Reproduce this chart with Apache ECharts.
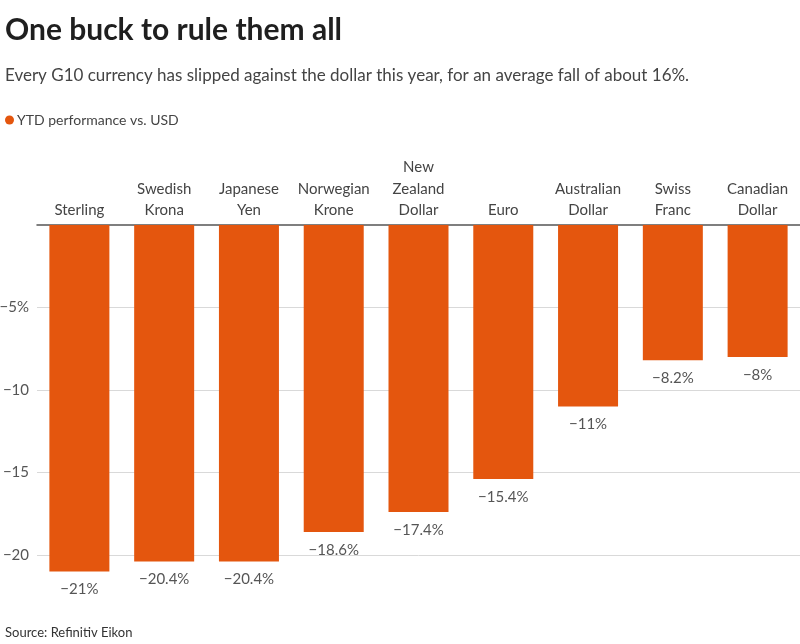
<!DOCTYPE html>
<html><head><meta charset="utf-8">
<script src="https://cdn.jsdelivr.net/npm/echarts@6/dist/echarts.min.js"></script>
<style>html,body{margin:0;padding:0;background:#fff}#c{width:800px;height:644px}</style>
</head><body><div id="c"></div>
<script>
const categories = ['Sterling', 'Swedish\nKrona', 'Japanese\nYen', 'Norwegian\nKrone', 'New\nZealand\nDollar', 'Euro', 'Australian\nDollar', 'Swiss\nFranc', 'Canadian\nDollar'];
const ytdValues = [-21, -20.4, -20.4, -18.6, -17.4, -15.4, -11, -8.2, -8];
const yTickLabels = {'-5': '−5%', '-10': '−10', '-15': '−15', '-20': '−20'};
const seriesName = 'YTD performance vs. USD';

const FONT = 'Lato';
const ORANGE = '#e4560e';
const chart = echarts.init(document.getElementById('c'), null, {renderer: 'canvas'});
chart.setOption({
  backgroundColor: '#fff',
  animation: false,
  textStyle: {fontFamily: FONT},
  title: [
    {text: 'One buck to rule them all', left: 0, top: 10,
     textStyle: {fontFamily: FONT, fontWeight: 'bold', fontSize: 30, color: '#1f1f1f'}},
    {text: 'Every G10 currency has slipped against the dollar this year, for an average fall of about 16%.', left: 0, top: 62,
     textStyle: {fontFamily: FONT, fontWeight: 'normal', fontSize: 17, color: '#444'}},
    {text: 'Source: Refinitiv Eikon', left: 0, top: 621,
     textStyle: {fontFamily: FONT, fontWeight: 'normal', fontSize: 13, color: '#333'}}
  ],
  legend: {
    left: 0, top: 108, icon: 'circle', itemWidth: 9, itemHeight: 9, itemGap: 4,
    textStyle: {fontFamily: FONT, fontSize: 14, color: '#444', padding: [0, 0, 0, -2]},
    data: [seriesName]
  },
  grid: {left: 37, right: 0, top: 225, bottom: 6.5, containLabel: false, outerBoundsMode: 'none'},
  xAxis: {
    type: 'category', position: 'top', data: categories,
    axisLine: {show: true, onZero: false, lineStyle: {color: '#555', width: 1.5}},
    axisTick: {show: false},
    axisLabel: {fontFamily: FONT, fontSize: 15, color: '#444', lineHeight: 21.5, margin: 4, interval: 0}
  },
  yAxis: {
    type: 'value', min: -25, max: 0, interval: 5,
    axisLine: {show: false}, axisTick: {show: false},
    axisLabel: {fontFamily: FONT, fontSize: 15, color: '#555', margin: 8,
      formatter: v => yTickLabels[String(v)] || ''},
    splitLine: {show: true, lineStyle: {color: ['rgba(0,0,0,0)', '#d9d9d9', '#d9d9d9', '#d9d9d9', '#d9d9d9', 'rgba(0,0,0,0)'], width: 1}}
  },
  series: [{
    name: seriesName, type: 'bar', data: ytdValues, barWidth: 60,
    itemStyle: {color: ORANGE},
    label: {show: true, position: 'bottom', distance: 10.5, fontFamily: FONT, fontSize: 15, color: '#555',
      formatter: p => '−' + Math.abs(p.value) + '%'}
  }]
});
</script></body></html>
